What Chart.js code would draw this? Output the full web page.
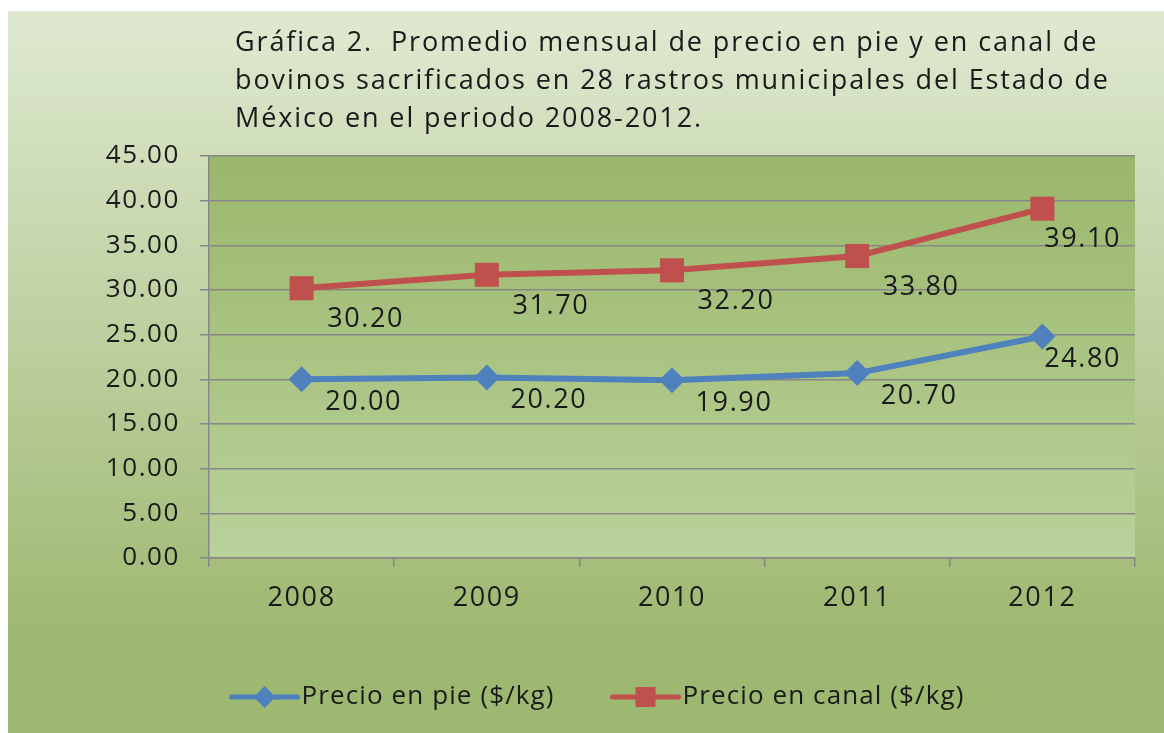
<!DOCTYPE html>
<html>
<head>
<meta charset="utf-8">
<title>Gráfica 2</title>
<script src="https://cdn.jsdelivr.net/npm/chart.js@4.4.1/dist/chart.umd.min.js"></script>
<style>
  html, body { margin: 0; padding: 0; background: #fff; }
  #wrap { width: 1164px; height: 733px; }
</style>
</head>
<body>
<div id="wrap"><canvas id="chart" width="1164" height="733"></canvas></div>
<script>
const years = ["2008", "2009", "2010", "2011", "2012"];
const precioPie = [20.0, 20.2, 19.9, 20.7, 24.8];
const precioCanal = [30.2, 31.7, 32.2, 33.8, 39.1];
const yMin = 0;
const yMax = 45;
const yStep = 5;
const seriesNames = ["Precio en pie ($/kg)", "Precio en canal ($/kg)"];
const titleLines = [
  "Gráfica 2.  Promedio mensual de precio en pie y en canal de",
  "bovinos sacrificados en 28 rastros municipales del Estado de",
  "México en el periodo 2008-2012."
];

const FONT = '"Open Sans", "Liberation Sans", sans-serif';
const TEXT = "#1a1a1a";
const GRID = "#878787";
// the original font is wider than Open Sans, so space the letters a bit
const SPACING = "1.6px";

// backgrounds: outer frame gradient and plot area gradient
const backgroundPlugin = {
  id: "backgrounds",
  beforeUpdate(chart) {
    chart.ctx.letterSpacing = SPACING;
  },
  beforeDraw(chart) {
    const { ctx, width, height, chartArea: a } = chart;
    ctx.letterSpacing = SPACING;
    ctx.save();
    ctx.fillStyle = "#ffffff";
    ctx.fillRect(0, 0, width, height);
    const g = ctx.createLinearGradient(0, 11, 0, 640);
    g.addColorStop(0, "#dfe9d1");
    g.addColorStop(1, "#9db870");
    ctx.fillStyle = g;
    ctx.fillRect(8, 11, width - 8, height - 11);
    const pg = ctx.createLinearGradient(0, a.top, 0, a.bottom);
    pg.addColorStop(0, "#9bb76b");
    pg.addColorStop(1, "#b9d19b");
    ctx.fillStyle = pg;
    ctx.fillRect(a.left, a.top, a.right - a.left, a.bottom - a.top);
    ctx.restore();
  }
};

// value labels below-right of each point
const valueLabelPlugin = {
  id: "valueLabels",
  afterDatasetsDraw(chart) {
    const { ctx, chartArea: a } = chart;
    ctx.save();
    ctx.font = "27px " + FONT;
    ctx.fillStyle = TEXT;
    ctx.textAlign = "center";
    ctx.textBaseline = "middle";
    chart.data.datasets.forEach((ds, i) => {
      const meta = chart.getDatasetMeta(i);
      const [dx, dy] = ds.labelOffset;
      meta.data.forEach((pt, j) => {
        const txt = ds.data[j].toFixed(2);
        const half = ctx.measureText(txt).width / 2;
        let x = pt.x + dx;
        if (x + half > a.right - 14) x = a.right - 14 - half;
        ctx.fillText(txt, x, pt.y + dy);
      });
    });
    ctx.restore();
  }
};

// title and legend (line + marker, like the original)
const decorPlugin = {
  id: "decor",
  afterDraw(chart) {
    const { ctx } = chart;
    ctx.save();
    ctx.fillStyle = TEXT;
    ctx.font = "27px " + FONT;
    ctx.letterSpacing = "1.9px";
    ctx.textAlign = "left";
    ctx.textBaseline = "alphabetic";
    titleLines.forEach((line, i) => ctx.fillText(line, 235, 51 + i * 38));

    ctx.font = "26px " + FONT;
    ctx.letterSpacing = "1.1px";
    ctx.textBaseline = "middle";
    const lineLen = 66;
    const gap = 58;
    const items = chart.data.datasets.map((ds) => ({
      ds,
      w: lineLen + 4 + ctx.measureText(ds.label).width
    }));
    const total = items.reduce((s, it) => s + it.w, 0) + gap * (items.length - 1);
    let x = 598 - total / 2;
    const y = 697;
    items.forEach(({ ds, w }) => {
      ctx.strokeStyle = ds.borderColor;
      ctx.lineWidth = 5;
      ctx.lineCap = "round";
      ctx.beginPath();
      ctx.moveTo(x, y);
      ctx.lineTo(x + lineLen, y);
      ctx.stroke();
      ctx.fillStyle = ds.backgroundColor;
      const cx = x + lineLen / 2;
      if (ds.pointStyle === "rectRot") {
        ctx.beginPath();
        ctx.moveTo(cx, y - 11);
        ctx.lineTo(cx + 11, y);
        ctx.lineTo(cx, y + 11);
        ctx.lineTo(cx - 11, y);
        ctx.closePath();
        ctx.fill();
      } else {
        ctx.fillRect(cx - 10, y - 10, 20, 20);
      }
      ctx.fillStyle = TEXT;
      ctx.fillText(ds.label, x + lineLen + 4, y);
      x += w + gap;
    });
    ctx.restore();
  }
};

new Chart(document.getElementById("chart"), {
  type: "line",
  data: {
    labels: years,
    datasets: [
      {
        label: seriesNames[0],
        data: precioPie,
        borderColor: "#4f81bd",
        backgroundColor: "#4f81bd",
        borderWidth: 6,
        pointStyle: "rectRot",
        pointRadius: 13,
        pointHoverRadius: 13,
        pointBorderWidth: 0,
        tension: 0,
        labelOffset: [62, 23]
      },
      {
        label: seriesNames[1],
        data: precioCanal,
        borderColor: "#c0504d",
        backgroundColor: "#c0504d",
        borderWidth: 6,
        pointStyle: "rect",
        pointRadius: 17,
        pointHoverRadius: 17,
        pointBorderWidth: 0,
        tension: 0,
        labelOffset: [64, 31]
      }
    ]
  },
  options: {
    responsive: false,
    animation: false,
    devicePixelRatio: 1,
    layout: { padding: { top: 156, right: 29, bottom: 115, left: 48 } },
    plugins: {
      legend: { display: false },
      title: { display: false },
      tooltip: { enabled: false }
    },
    scales: {
      x: {
        offset: true,
        grid: {
          offset: true,
          drawOnChartArea: false,
          drawTicks: true,
          tickLength: 9,
          color: GRID,
          lineWidth: 1.5
        },
        border: { color: GRID, width: 1.5 },
        ticks: {
          color: TEXT,
          padding: 15,
          font: { family: FONT, size: 27 }
        },
        afterFit(scale) { scale.height = 60; }
      },
      y: {
        min: yMin,
        max: yMax,
        grid: { color: GRID, lineWidth: 1.5, tickLength: 9 },
        border: { color: GRID, width: 1.5 },
        ticks: {
          stepSize: yStep,
          color: TEXT,
          padding: 20,
          font: { family: FONT, size: 26 },
          callback: (v) => Number(v).toFixed(2)
        },
        afterFit(scale) { scale.width = 161; }
      }
    }
  },
  plugins: [backgroundPlugin, valueLabelPlugin, decorPlugin]
});
</script>
</body>
</html>
